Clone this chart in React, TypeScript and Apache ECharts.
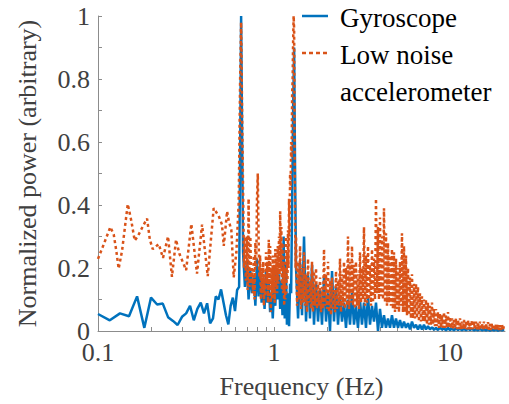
import React, { useEffect, useRef } from 'react';
import * as echarts from 'echarts';

const FONT = 'Liberation Serif';
const BLUE = '#0072BD';
const ORANGE = '#D95319';
const AXIS = '#8c8c8c';
const LABEL = '#404040';

// Tick positions
const xTickValues = [0.1, 0.2, 0.3, 0.4, 0.5, 0.6, 0.7, 0.8, 0.9, 1, 2, 3, 4, 5, 6, 7, 8, 9, 10, 20];
const xLabelValues = [0.1, 1, 10];

// Gyroscope: low-frequency part, first peak, between peaks, second peak
const gyroFreqLow = [
  0.1, 0.1167, 0.1333, 0.15, 0.1667, 0.1833, 0.2, 0.2167, 0.2333, 0.25,
  0.2667, 0.2833, 0.3, 0.3167, 0.3333, 0.35, 0.3667, 0.3833, 0.4, 0.4167,
  0.4333, 0.45, 0.4667, 0.4833, 0.5, 0.5167, 0.5333, 0.55, 0.5667, 0.5833,
  0.6, 0.6167, 0.6333, 0.65,
  0.6667, 0.6833, 0.7, 0.7167, 0.7333, 0.75, 0.7667, 0.7833, 0.8, 0.8167,
  0.8333, 0.85, 0.8667, 0.8833, 0.9, 0.9167, 0.9333, 0.95, 0.9667, 0.9833,
  1.0, 1.0167, 1.0333, 1.05, 1.0667, 1.0833, 1.1, 1.1167, 1.1333, 1.15,
  1.1667, 1.1833, 1.2, 1.2167, 1.2333, 1.25, 1.2667, 1.2833, 1.3, 1.3167,
];
const gyroPowerLow = [
  0.054, 0.034, 0.056, 0.047, 0.11, 0.01, 0.106, 0.084, 0.087, 0.044,
  0.032, 0.019, 0.045, 0.056, 0.08, 0.034, 0.07, 0.09, 0.056, 0.088,
  0.024, 0.04, 0.11, 0.1, 0.132, 0.09, 0.05, 0.021, 0.08, 0.106,
  0.063, 0.13, 0.14, 1.0,
  0.25, 0.14, 0.22, 0.1, 0.19, 0.12, 0.17, 0.08, 0.23, 0.11,
  0.2, 0.09, 0.16, 0.07, 0.19, 0.09, 0.15, 0.06, 0.12, 0.04,
  0.14, 0.08, 0.2, 0.1, 0.18, 0.07, 0.16, 0.05, 0.3, 0.04,
  0.22, 0.02, 0.12, 0.015, 0.15, 0.12, 0.4, 0.7, 0.9, 0.5,
];

// Gyroscope: dense high-frequency part
const gyroFreqDense = [
  1.333, 1.369, 1.405, 1.442, 1.48, 1.519, 1.559, 1.6, 1.643, 1.686,
  1.731, 1.777, 1.824, 1.872, 1.922, 1.973, 2.025, 2.079, 2.134, 2.19,
  2.248, 2.308, 2.369, 2.432, 2.496, 2.562, 2.63, 2.7, 2.771, 2.845,
  2.92, 2.997, 3.077, 3.158, 3.242, 3.328, 3.416, 3.507, 3.6, 3.695,
  3.793, 3.893, 3.997, 4.102, 4.211, 4.323, 4.437, 4.555, 4.675, 4.799,
  4.926, 5.057, 5.191, 5.328, 5.47, 5.614, 5.763, 5.916, 6.073, 6.234,
  6.399, 6.568, 6.743, 6.921, 7.105, 7.293, 7.486, 7.685, 7.888, 8.097,
  8.312, 8.532, 8.759, 8.991, 9.229, 9.474, 9.725, 9.983, 10.25, 10.52,
  10.8, 11.08, 11.38, 11.68, 11.99, 12.31, 12.63, 12.97, 13.31, 13.66,
  14.03, 14.4, 14.78, 15.17, 15.57, 15.99, 16.41, 16.85, 17.29, 17.75,
  18.22, 18.71, 19.2, 19.71, 20.23,
];
const gyroPowerDense = [
  0.2, 0.04, 0.22, 0.05, 0.3, 0.03, 0.18, 0.04, 0.21, 0.02,
  0.15, 0.03, 0.13, 0.02, 0.17, 0.03, 0.12, 0.0, 0.19, 0.03,
  0.14, 0.02, 0.11, 0.03, 0.09, 0.01, 0.1, 0.02, 0.12, 0.02,
  0.08, 0.01, 0.1, 0.02, 0.09, 0.01, 0.11, 0.02, 0.08, 0.03,
  0.09, 0.0, 0.07, 0.01, 0.05, 0.01, 0.04, 0.01, 0.05, 0.01,
  0.04, 0.01, 0.035, 0.01, 0.03, 0.01, 0.025, 0.005, 0.03, 0.01,
  0.02, 0.005, 0.02, 0.005, 0.02, 0.005, 0.015, 0.005, 0.012, 0.004,
  0.01, 0.003, 0.012, 0.004, 0.009, 0.002, 0.01, 0.003, 0.008, 0.002,
  0.009, 0.003, 0.008, 0.002, 0.007, 0.002, 0.008, 0.003, 0.007, 0.002,
  0.006, 0.002, 0.007, 0.002, 0.006, 0.002, 0.006, 0.001, 0.005, 0.002,
  0.006, 0.001, 0.005, 0.002, 0.005,
];

// Low noise accelerometer: low-frequency part and first peak
const accelFreqLow = [
  0.1, 0.1083, 0.1175, 0.1228, 0.127, 0.131, 0.137, 0.1476, 0.1546, 0.1616,
  0.168, 0.18, 0.19, 0.197, 0.2046, 0.2213, 0.234, 0.25, 0.263, 0.2775,
  0.29, 0.3167, 0.339, 0.365, 0.39, 0.42, 0.454, 0.485, 0.506, 0.518,
  0.541, 0.553, 0.572, 0.59, 0.611, 0.63, 0.6417, 0.65, 0.6583,
];
const accelPowerLow = [
  0.229, 0.278, 0.33, 0.307, 0.255, 0.198, 0.255, 0.403, 0.35, 0.287,
  0.3, 0.333, 0.357, 0.29, 0.26, 0.276, 0.232, 0.3, 0.172, 0.29,
  0.245, 0.193, 0.34, 0.182, 0.338, 0.174, 0.39, 0.365, 0.338, 0.27,
  0.38, 0.35, 0.32, 0.17, 0.25, 0.41, 0.8, 0.98, 0.7,
];

// Low noise accelerometer: between peaks and second peak
const accelFreqMid = [
  0.6667, 0.675, 0.6833, 0.6917, 0.7, 0.7083, 0.7167, 0.725, 0.7333, 0.7417,
  0.75, 0.7583, 0.7667, 0.775, 0.7833, 0.7917, 0.8, 0.8083, 0.8167, 0.825,
  0.8333, 0.8417, 0.85, 0.8583, 0.8667, 0.875, 0.8833, 0.8917, 0.9, 0.9083,
  0.9167, 0.925, 0.9333, 0.9417, 0.95, 0.9583, 0.9667, 0.975, 0.9833, 0.9917,
  1.0, 1.0083, 1.0167, 1.025, 1.0333, 1.0417, 1.05, 1.0583, 1.0667, 1.075,
  1.0833, 1.0917, 1.1, 1.1083, 1.1167, 1.125, 1.1333, 1.1417, 1.15, 1.1583,
  1.1667, 1.175, 1.1833, 1.1917, 1.2, 1.2083, 1.2167, 1.225, 1.2333, 1.2417,
  1.25, 1.2583, 1.2667, 1.275, 1.2833, 1.2917, 1.3, 1.3083, 1.3167, 1.325,
];
const accelPowerMid = [
  0.45, 0.2, 0.3, 0.16, 0.3, 0.13, 0.42, 0.14, 0.3, 0.15,
  0.2, 0.12, 0.24, 0.1, 0.28, 0.2, 0.42, 0.5, 0.3, 0.17,
  0.24, 0.1, 0.2, 0.12, 0.22, 0.08, 0.18, 0.11, 0.25, 0.15,
  0.22, 0.09, 0.29, 0.14, 0.27, 0.06, 0.2, 0.1, 0.24, 0.12,
  0.21, 0.09, 0.26, 0.14, 0.23, 0.12, 0.27, 0.15, 0.3, 0.18,
  0.38, 0.2, 0.33, 0.13, 0.28, 0.12, 0.22, 0.08, 0.2, 0.1,
  0.3, 0.12, 0.25, 0.16, 0.32, 0.2, 0.42, 0.3, 0.5, 0.45,
  0.6, 0.55, 0.75, 0.8, 0.92, 1.0, 0.96, 0.6, 0.35, 0.2,
];

// Low noise accelerometer: dense high-frequency part
const accelFreqDense = [
  1.333, 1.351, 1.369, 1.387, 1.405, 1.423, 1.442, 1.461, 1.48, 1.5,
  1.519, 1.539, 1.559, 1.58, 1.6, 1.621, 1.643, 1.664, 1.686, 1.708,
  1.731, 1.754, 1.777, 1.8, 1.824, 1.848, 1.872, 1.897, 1.922, 1.947,
  1.973, 1.999, 2.025, 2.052, 2.079, 2.106, 2.134, 2.162, 2.19, 2.219,
  2.248, 2.278, 2.308, 2.338, 2.369, 2.4, 2.432, 2.464, 2.496, 2.529,
  2.562, 2.596, 2.63, 2.665, 2.7, 2.735, 2.771, 2.808, 2.845, 2.882,
  2.92, 2.958, 2.997, 3.037, 3.077, 3.117, 3.158, 3.2, 3.242, 3.285,
  3.328, 3.372, 3.416, 3.461, 3.507, 3.553, 3.6, 3.647, 3.695, 3.744,
  3.793, 3.843, 3.893, 3.944, 3.997, 4.049, 4.102, 4.156, 4.211, 4.267,
  4.323, 4.38, 4.437, 4.495, 4.555, 4.614, 4.675, 4.737, 4.799, 4.862,
  4.926, 4.991, 5.057, 5.124, 5.191, 5.259, 5.328, 5.398, 5.47, 5.542,
  5.614, 5.688, 5.763, 5.839, 5.916, 5.994, 6.073, 6.153, 6.234, 6.316,
  6.399, 6.483, 6.568, 6.655, 6.743, 6.831, 6.921, 7.012, 7.105, 7.198,
  7.293, 7.389, 7.486, 7.585, 7.685, 7.786, 7.888, 7.992, 8.097, 8.204,
  8.312, 8.421, 8.532, 8.645, 8.759, 8.874, 8.991, 9.109, 9.229, 9.351,
  9.474, 9.599, 9.725, 9.853, 9.983, 10.11, 10.25, 10.38, 10.52, 10.66,
  10.8, 10.94, 11.08, 11.23, 11.38, 11.53, 11.68, 11.83, 11.99, 12.15,
  12.31, 12.47, 12.63, 12.8, 12.97, 13.14, 13.31, 13.49, 13.66, 13.84,
  14.03, 14.21, 14.4, 14.59, 14.78, 14.98, 15.17, 15.37, 15.57, 15.78,
  15.99, 16.2, 16.41, 16.63, 16.85, 17.07, 17.29, 17.52, 17.75, 17.98,
  18.22, 18.46, 18.71, 18.95, 19.2, 19.46, 19.71, 19.97, 20.23,
];
const accelPowerDense = [
  0.3, 0.08, 0.22, 0.1, 0.27, 0.07, 0.2, 0.09, 0.25, 0.08,
  0.18, 0.06, 0.23, 0.09, 0.16, 0.07, 0.22, 0.06, 0.19, 0.08,
  0.2, 0.07, 0.15, 0.08, 0.17, 0.06, 0.14, 0.07, 0.26, 0.08,
  0.18, 0.07, 0.22, 0.06, 0.16, 0.05, 0.17, 0.07, 0.13, 0.06,
  0.19, 0.07, 0.16, 0.08, 0.23, 0.06, 0.18, 0.08, 0.22, 0.07,
  0.2, 0.08, 0.3, 0.07, 0.22, 0.09, 0.27, 0.08, 0.21, 0.07,
  0.22, 0.08, 0.18, 0.07, 0.25, 0.09, 0.2, 0.1, 0.33, 0.08,
  0.24, 0.09, 0.27, 0.1, 0.21, 0.08, 0.26, 0.09, 0.23, 0.1,
  0.42, 0.12, 0.33, 0.1, 0.36, 0.11, 0.3, 0.1, 0.39, 0.09,
  0.31, 0.08, 0.28, 0.09, 0.24, 0.08, 0.26, 0.07, 0.25, 0.06,
  0.23, 0.07, 0.2, 0.06, 0.22, 0.08, 0.31, 0.06, 0.27, 0.06,
  0.24, 0.05, 0.2, 0.05, 0.17, 0.04, 0.18, 0.04, 0.15, 0.04,
  0.15, 0.04, 0.14, 0.03, 0.12, 0.03, 0.11, 0.03, 0.1, 0.03,
  0.1, 0.02, 0.09, 0.02, 0.08, 0.02, 0.09, 0.02, 0.07, 0.015,
  0.07, 0.015, 0.06, 0.01, 0.055, 0.01, 0.05, 0.01, 0.06, 0.01,
  0.05, 0.01, 0.06, 0.01, 0.045, 0.008, 0.04, 0.008, 0.035, 0.008,
  0.04, 0.006, 0.035, 0.006, 0.04, 0.006, 0.03, 0.006, 0.035, 0.005,
  0.03, 0.005, 0.035, 0.005, 0.03, 0.005, 0.035, 0.006, 0.03, 0.005,
  0.03, 0.005, 0.028, 0.004, 0.03, 0.004, 0.025, 0.004, 0.03, 0.004,
  0.025, 0.004, 0.028, 0.004, 0.022, 0.003, 0.025, 0.003, 0.02, 0.003,
  0.022, 0.003, 0.02, 0.003, 0.018, 0.003, 0.02, 0.003, 0.018,
];

function pairs(freq: number[], power: number[]) {
  const n = Math.min(freq.length, power.length);
  const out: number[][] = [];
  for (let i = 0; i < n; i++) out.push([freq[i], power[i]]);
  return out;
}

export default function App() {
  const ref = useRef<HTMLDivElement>(null);
  useEffect(() => {
    document.body.style.margin = '0';
    const chart = echarts.init(ref.current!, null, { renderer: 'svg' });
    const gyroData = [...pairs(gyroFreqLow, gyroPowerLow), ...pairs(gyroFreqDense, gyroPowerDense)];
    const accelData = [
      ...pairs(accelFreqLow, accelPowerLow),
      ...pairs(accelFreqMid, accelPowerMid),
      ...pairs(accelFreqDense, accelPowerDense),
    ];
    const legendText = (text: string, y: number) => ({
      type: 'text',
      x: 340,
      y,
      style: { text, fontFamily: FONT, fontSize: 27, fill: '#000' },
    });
    chart.setOption({
      animation: false,
      textStyle: { fontFamily: FONT },
      grid: { left: 98, right: 4, top: 16, bottom: 69, containLabel: false },
      xAxis: {
        type: 'log',
        logBase: 10,
        min: 0.1,
        max: 20.5,
        name: 'Frequency (Hz)',
        nameLocation: 'middle',
        nameGap: 42,
        nameTextStyle: { fontFamily: FONT, fontSize: 26, color: LABEL },
        axisLine: { show: true, lineStyle: { color: AXIS, width: 1 } },
        axisTick: {
          show: true,
          inside: true,
          length: 4,
          customValues: xTickValues,
          lineStyle: { color: AXIS, width: 1 },
        },
        minorTick: { show: false },
        axisLabel: {
          customValues: xLabelValues,
          fontFamily: FONT,
          fontSize: 26,
          lineHeight: 20,
          color: LABEL,
          margin: 11,
          formatter: (v: number) => String(v),
        },
        splitLine: { show: false },
      },
      yAxis: {
        type: 'value',
        min: 0,
        max: 1,
        interval: 0.2,
        name: 'Normalized power (arbitrary)',
        nameLocation: 'middle',
        nameGap: 58,
        nameRotate: 90,
        nameTextStyle: { fontFamily: FONT, fontSize: 26, color: LABEL },
        axisLine: { show: true, lineStyle: { color: AXIS, width: 1 } },
        axisTick: { show: true, inside: true, length: 4, lineStyle: { color: AXIS, width: 1 } },
        minorTick: { show: true, splitNumber: 2, length: 4, lineStyle: { color: AXIS, width: 1 } },
        axisLabel: { fontFamily: FONT, fontSize: 26, lineHeight: 16, color: LABEL, margin: 8 },
        splitLine: { show: false },
      },
      series: [
        {
          type: 'line',
          name: 'Gyroscope',
          data: gyroData,
          symbol: 'none',
          showSymbol: false,
          lineStyle: { color: BLUE, width: 2.5 },
          itemStyle: { color: BLUE },
          z: 2,
        },
        {
          type: 'line',
          name: 'Low noise accelerometer',
          data: accelData,
          symbol: 'none',
          showSymbol: false,
          lineStyle: { color: ORANGE, width: 2.5, type: [3, 3] },
          itemStyle: { color: ORANGE },
          z: 3,
        },
      ],
      graphic: [
        {
          type: 'line',
          shape: { x1: 302, y1: 16, x2: 328, y2: 16 },
          style: { stroke: BLUE, lineWidth: 2.5 },
        },
        legendText('Gyroscope', 4),
        {
          type: 'line',
          shape: { x1: 302, y1: 53, x2: 330, y2: 53 },
          style: { stroke: ORANGE, lineWidth: 2.5, lineDash: [4, 3] },
        },
        legendText('Low noise', 41),
        legendText('accelerometer', 78),
      ],
    });
    return () => chart.dispose();
  }, []);
  return <div ref={ref} style={{ width: 509, height: 404, fontFamily: FONT }} />;
}
